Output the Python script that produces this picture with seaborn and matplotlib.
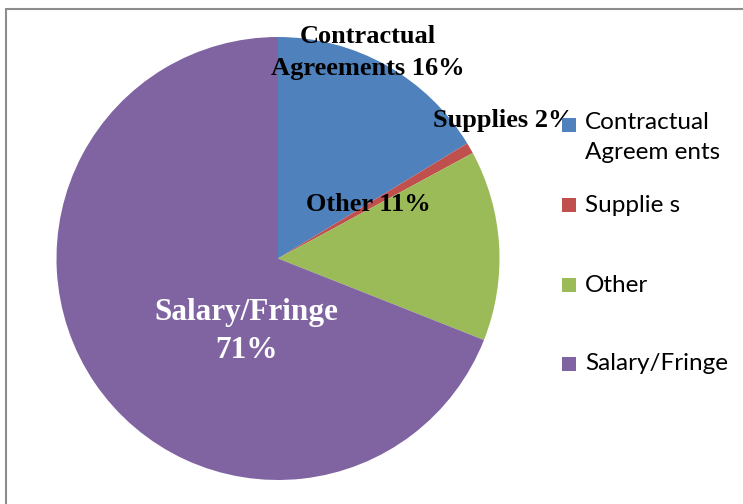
import matplotlib
matplotlib.use("Agg")
import matplotlib.pyplot as plt
from matplotlib.lines import Line2D
from matplotlib.patches import Rectangle
import seaborn as sns

# slice data (sizes read from the drawn wedges, labels as printed)
categories = ["Contractual\nAgreements", "Supplies", "Other", "Salary/Fringe"]
shares = [16.3, 0.8, 13.9, 69.0]
label_texts = ["Contractual\nAgreements 16%", "Supplies 2%", "Other 11%", "Salary/Fringe\n71%"]
legend_names = ["Contractual\nAgreem ents", "Supplie s", "Other", "Salary/Fringe"]
colors = ["#4F81BD", "#C0504D", "#9BBB59", "#8064A2"]

sns.set_theme(style="white")
pal = sns.color_palette(colors)

W, H = 743, 504
fig = plt.figure(figsize=(W / 100, H / 100), dpi=100)

# pie centre ~ (278, 258) px, radius ~ 221 px
cx, cy, r = 278, 258.5, 221.5
ax = fig.add_axes([(cx - r) / W, (H - cy - r) / H, 2 * r / W, 2 * r / H])
ax.pie(shares, colors=pal, startangle=90, counterclock=False, radius=1,
       wedgeprops=dict(linewidth=0))
ax.set_xlim(-1, 1)
ax.set_ylim(-1, 1)
ax.set_aspect("auto")
ax.axis("off")

# data labels
serif = ["Liberation Serif", "DejaVu Serif"]
label_pos = [(0.406, 0.93), (1.02, 0.625), (0.406, 0.242), (-0.144, -0.33)]
label_size = [19, 19, 19, 22.5]
label_col = ["black", "black", "black", "white"]
label_ls = [1.45, 1.0, 1.0, 1.4]
for txt, (x, y), s, c, ls in zip(label_texts, label_pos, label_size, label_col, label_ls):
    ax.text(x, y, txt, ha="center", va="center", fontsize=s, fontweight="bold",
            family=serif, color=c, linespacing=ls, clip_on=False)

# legend drawn as squares + text
leg_y = [125, 205, 285, 364]
for name, col, y in zip(legend_names, pal, leg_y):
    fig.add_artist(Rectangle((562 / W, (H - y - 7) / H), 14 / W, 14 / H,
                             transform=fig.transFigure, color=col, lw=0))
    fig.text(585 / W, (H - y + 13) / H if "\n" in name else (H - y) / H, name,
             ha="left", va="top" if "\n" in name else "center",
             fontsize=17.5, family=["Lato", "DejaVu Sans"], color="black",
             linespacing=1.55)

# outer frame (top and left edges visible)
fig.add_artist(Line2D([6 / W, 6 / W], [0, (H - 9) / H], transform=fig.transFigure,
                      color="#8c8c8c", lw=1.5))
fig.add_artist(Line2D([6 / W, 1], [(H - 9) / H, (H - 9) / H], transform=fig.transFigure,
                      color="#8c8c8c", lw=1.5))

fig.savefig("out.png", dpi=100)
